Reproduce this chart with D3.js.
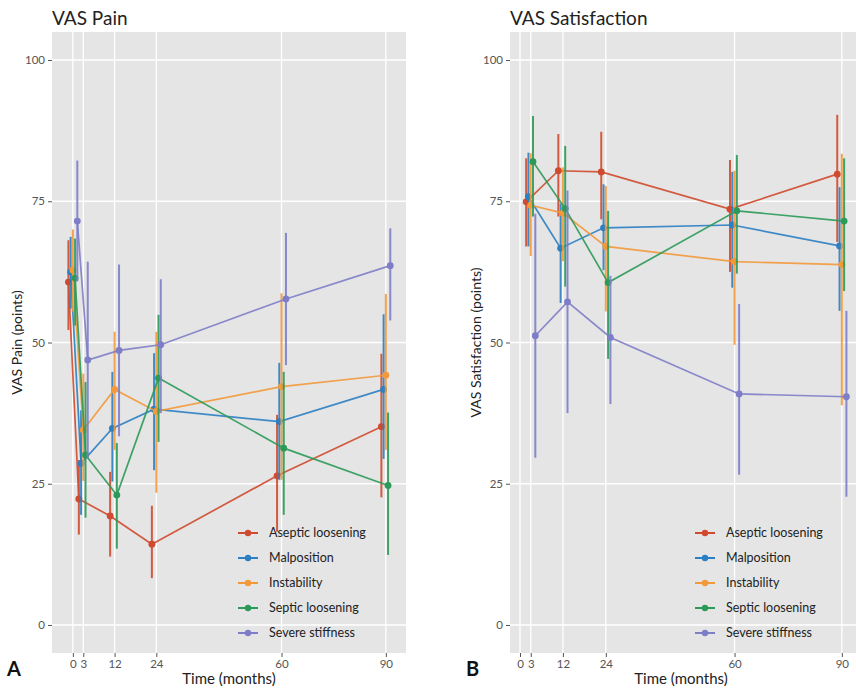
<!DOCTYPE html>
<meta charset="utf-8">
<head>
  <title>VAS Pain and Satisfaction</title>
</head>
<style>
  body { margin: 0; background: #fff; font-family: Lato, "Open Sans", sans-serif; }
  .tick text { fill: #555; font-size: 11.5px; }
  .tick line { stroke: #555; }
</style>
<body>
<svg id="chart" width="856" height="689"></svg>
<script src="https://d3js.org/d3.v7.min.js"></script>
<script>
var categories = ['Aseptic loosening', 'Malposition', 'Instability', 'Septic loosening', 'Severe stiffness'];
var colors = ['#cf4a2e', '#2c7fc2', '#f2993a', '#2b9a58', '#7d7dc8'];
var xTicks = [0, 3, 12, 24, 60, 90];
var yTicks = [0, 25, 50, 75, 100];

// VAS pain, months 0..90
var painTimes = [0, 3, 12, 24, 60, 90];
var painMean = [
  [60.7, 22.3, 19.3, 14.3, 26.4, 35.1],
  [62.5, 28.6, 34.8, 38.2, 36.0, 41.7],
  [62.8, 34.5, 41.7, 37.8, 42.2, 44.2],
  [61.4, 30.1, 23.0, 43.7, 31.3, 24.7],
  [71.5, 46.9, 48.6, 49.6, 57.7, 63.6]
];
var painLower = [
  [52.2, 16.0, 12.1, 8.3, 16.5, 22.6],
  [56.0, 19.5, 25.4, 27.4, 25.7, 29.4],
  [55.5, 25.5, 31.0, 23.4, 25.7, 31.0],
  [53.0, 19.0, 13.5, 32.4, 19.5, 12.4],
  [60.8, 29.5, 33.4, 37.5, 46.0, 53.9]
];
var painUpper = [
  [68.1, 29.2, 27.1, 21.1, 37.2, 48.0],
  [68.7, 38.0, 44.8, 48.1, 46.4, 55.0],
  [70.0, 44.5, 51.9, 51.9, 58.7, 58.6],
  [68.4, 43.0, 32.2, 54.9, 44.8, 37.6],
  [82.2, 64.3, 63.8, 61.2, 69.4, 70.2]
];

// VAS satisfaction, months 3..90
var satTimes = [3, 12, 24, 60, 90];
var satMean = [
  [74.9, 80.4, 80.2, 73.6, 79.8],
  [75.8, 66.7, 70.3, 70.8, 67.1],
  [74.3, 72.9, 67.0, 64.3, 63.8],
  [82.0, 73.7, 60.6, 73.3, 71.5],
  [51.2, 57.2, 50.9, 40.9, 40.4]
];
var satLower = [
  [67.0, 72.3, 71.8, 62.5, 67.8],
  [67.0, 57.0, 62.8, 59.7, 55.6],
  [65.3, 64.4, 55.5, 49.6, 38.9],
  [72.3, 59.9, 47.1, 62.2, 59.1],
  [29.6, 37.5, 39.1, 26.6, 22.7]
];
var satUpper = [
  [82.6, 86.9, 87.3, 82.3, 90.3],
  [83.6, 74.6, 78.0, 80.2, 77.5],
  [83.5, 81.0, 77.7, 80.4, 83.4],
  [90.1, 84.8, 73.3, 83.2, 82.6],
  [72.8, 76.9, 61.8, 56.8, 55.6]
];

var dodge = 0.64; // months between neighbouring groups

var svg = d3.select('#chart');

function drawPanel(cfg) {
  var g = svg.append('g');
  var x = d3.scaleLinear().domain(cfg.xDomain).range(cfg.xRange);
  var y = d3.scaleLinear().domain([-4.96, 104.96]).range([653, 32]);

  g.append('rect')
    .attr('x', cfg.xRange[0]).attr('y', 32)
    .attr('width', cfg.xRange[1] - cfg.xRange[0]).attr('height', 621)
    .attr('fill', '#e5e5e5');

  g.selectAll('line.hgrid').data(yTicks).enter().append('line')
    .attr('x1', cfg.xRange[0]).attr('x2', cfg.xRange[1])
    .attr('y1', y).attr('y2', y)
    .attr('stroke', '#fff').attr('stroke-width', 1.3);
  g.selectAll('line.vgrid').data(xTicks).enter().append('line')
    .attr('x1', x).attr('x2', x)
    .attr('y1', 32).attr('y2', 653)
    .attr('stroke', '#fff').attr('stroke-width', 1.3);

  var xa = g.append('g').attr('transform', 'translate(0,653)')
    .call(d3.axisBottom(x).tickValues(xTicks).tickSize(4).tickPadding(3));
  xa.select('.domain').remove();
  var ya = g.append('g').attr('transform', 'translate(' + cfg.xRange[0] + ',0)')
    .call(d3.axisLeft(y).tickValues(yTicks).tickSize(4).tickPadding(3));
  ya.select('.domain').remove();
  g.selectAll('.tick text').style('font-family', 'Lato, sans-serif');

  var line = d3.line().x(function(d) { return x(d.t); }).y(function(d) { return y(d.m); });

  var series = categories.map(function(c, i) {
    return cfg.times.map(function(t, j) {
      return { t: t + (i - 2) * dodge, m: cfg.mean[i][j], lo: cfg.lower[i][j], hi: cfg.upper[i][j] };
    });
  });

  var sg = g.selectAll('g.series').data(series).enter().append('g');
  sg.each(function(d, i) {
    d3.select(this).selectAll('line').data(d).enter().append('line')
      .attr('x1', function(p) { return x(p.t); }).attr('x2', function(p) { return x(p.t); })
      .attr('y1', function(p) { return y(p.lo); }).attr('y2', function(p) { return y(p.hi); })
      .attr('stroke', colors[i])
      .attr('stroke-width', 2).attr('stroke-opacity', 0.9);
  });
  sg.append('path')
    .attr('d', line)
    .attr('fill', 'none')
    .attr('stroke', function(d, i) { return colors[i]; })
    .attr('stroke-width', 1.7).attr('stroke-opacity', 0.9);
  sg.each(function(d, i) {
    d3.select(this).selectAll('circle').data(d).enter().append('circle')
      .attr('cx', function(p) { return x(p.t); })
      .attr('cy', function(p) { return y(p.m); })
      .attr('r', 3.4)
      .attr('fill', colors[i]);
  });

  // titles
  g.append('text').attr('x', cfg.xRange[0]).attr('y', 25)
    .attr('font-size', 19).attr('fill', '#222').text(cfg.title);
  g.append('text')
    .attr('transform', 'translate(' + cfg.yTitleX + ',342.5) rotate(-90)')
    .attr('text-anchor', 'middle').attr('font-size', 14).attr('fill', '#222')
    .text(cfg.yTitle);
  g.append('text').attr('x', cfg.xTitleX).attr('y', 684)
    .attr('text-anchor', 'middle').attr('font-size', 15).attr('fill', '#222')
    .text('Time (months)');
  g.append('text').attr('x', cfg.letterX).attr('y', 676)
    .attr('font-size', 20).attr('font-weight', 'bold').attr('fill', '#111')
    .text(cfg.letter);

  // legend
  var lg = g.selectAll('g.legend').data(categories).enter().append('g')
    .attr('transform', function(d, i) { return 'translate(' + cfg.legendX + ',' + (533 + i * 25) + ')'; });
  lg.append('line').attr('x1', 0).attr('x2', 20).attr('y1', 0).attr('y2', 0)
    .attr('stroke', function(d, i) { return colors[i]; }).attr('stroke-width', 2);
  lg.append('circle').attr('cx', 10).attr('cy', 0).attr('r', 3.2)
    .attr('fill', function(d, i) { return colors[i]; });
  lg.append('text').attr('x', 31).attr('y', 0).attr('dy', '0.35em')
    .attr('font-size', 12.5).attr('fill', '#222').text(function(d) { return d; });
}

drawPanel({
  title: 'VAS Pain', yTitle: 'VAS Pain (points)', letter: 'A',
  times: painTimes, mean: painMean, lower: painLower, upper: painUpper,
  xDomain: [-6.0, 95.8], xRange: [52, 406],
  yTitleX: 22, xTitleX: 229, letterX: 7, legendX: 238
});
drawPanel({
  title: 'VAS Satisfaction', yTitle: 'VAS Satisfaction (points)', letter: 'B',
  times: satTimes, mean: satMean, lower: satLower, upper: satUpper,
  xDomain: [-2.8, 96.2], xRange: [510, 864],
  yTitleX: 481, xTitleX: 681, letterX: 466, legendX: 695
});
</script>
</body>
